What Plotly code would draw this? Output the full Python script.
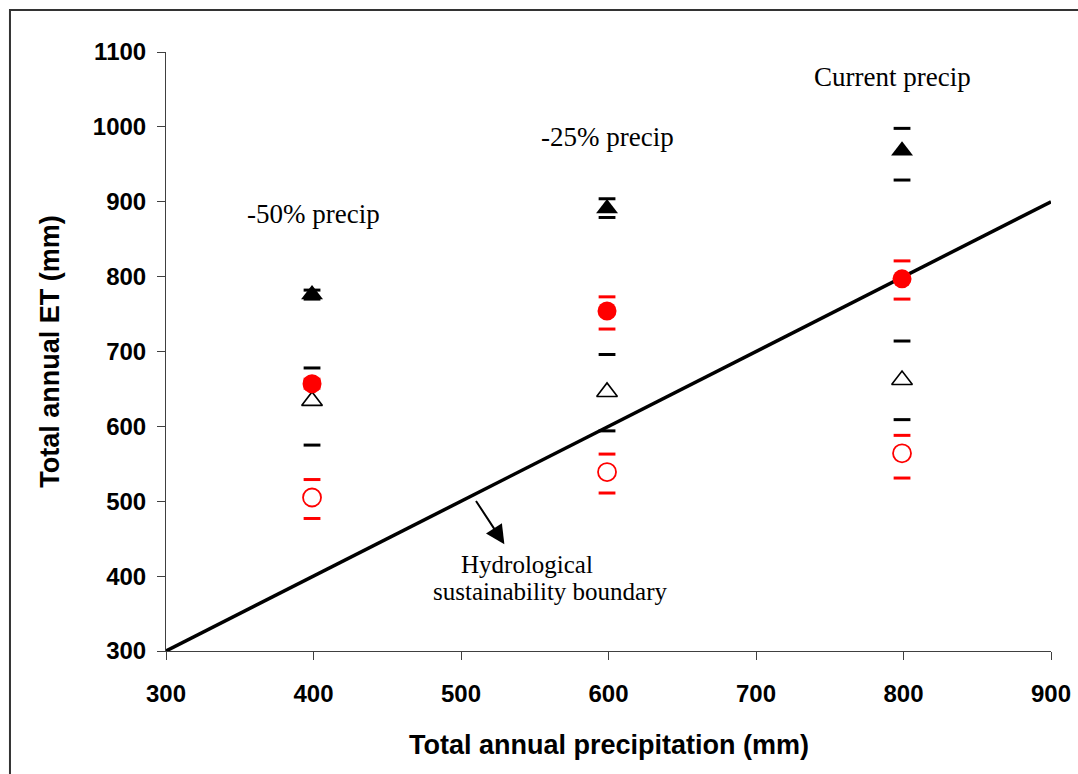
import plotly.graph_objects as go

# ---- data ----
precip = [399, 599, 799]

filled_tri = [776, 891, 968]
filled_tri_plus = [6, 13, 30]
filled_tri_minus = [6, 12, 39]

open_tri = [634, 646, 662]
open_tri_plus = [44, 50, 52]
open_tri_minus = [59, 52, 53]

filled_circ = [657, 754, 797]
filled_circ_plus = [6, 19, 24]
filled_circ_minus = [6, 24, 27]

open_circ = [505, 539, 564]
open_circ_plus = [24, 24, 24]
open_circ_minus = [28, 28, 33]

boundary_x = [300, 900]
boundary_y = [300, 900]

x_ticks = [300, 400, 500, 600, 700, 800, 900]
y_ticks = [300, 400, 500, 600, 700, 800, 900, 1000, 1100]

labels = ["-50% precip", "-25% precip", "Current precip"]
label_x = [399.7, 599.3, 792.5]
label_y = [884, 987, 1067]

SERIF = "Times New Roman, Liberation Serif, serif"
SANS = "Arial, Liberation Sans, sans-serif"

fig = go.Figure()

fig.add_trace(go.Scatter(x=boundary_x, y=boundary_y, mode="lines",
                         line=dict(color="black", width=3.5),
                         showlegend=False, hoverinfo="skip", cliponaxis=False))


def caps(x, m, p, n, color):
    ys = [a + b for a, b in zip(m, p)] + [a - b for a, b in zip(m, n)]
    xs = list(x) + list(x)
    fig.add_trace(go.Scatter(x=xs, y=ys, mode="markers",
                             marker=dict(symbol="line-ew", size=12,
                                         line=dict(color=color, width=3)),
                             showlegend=False, hoverinfo="skip"))


caps(precip, open_tri, open_tri_plus, open_tri_minus, "black")
caps(precip, open_circ, open_circ_plus, open_circ_minus, "red")
caps(precip, filled_circ, filled_circ_plus, filled_circ_minus, "red")
caps(precip, filled_tri, filled_tri_plus, filled_tri_minus, "black")

fig.add_trace(go.Scatter(x=precip, y=open_tri, mode="markers",
                         marker=dict(symbol="triangle-up-open", size=18, color="black",
                                     line=dict(width=1.6, color="black")),
                         showlegend=False))
fig.add_trace(go.Scatter(x=precip, y=open_circ, mode="markers",
                         marker=dict(symbol="circle-open", size=18, color="red",
                                     line=dict(width=1.8, color="red")),
                         showlegend=False))
fig.add_trace(go.Scatter(x=precip, y=filled_circ, mode="markers",
                         marker=dict(symbol="circle", size=19, color="red",
                                     line=dict(width=0)),
                         showlegend=False))
fig.add_trace(go.Scatter(x=precip, y=filled_tri, mode="markers",
                         marker=dict(symbol="triangle-up", size=19, color="black",
                                     line=dict(width=0)),
                         showlegend=False))

annotations = []
for t, ax_, ay_ in zip(labels, label_x, label_y):
    annotations.append(dict(x=ax_, y=ay_, xref="x", yref="y", text=t, showarrow=False,
                            xanchor="center", yanchor="middle",
                            font=dict(family=SERIF, size=27, color="black")))

annotations.append(dict(x=544.7, y=416, xref="x", yref="y", text="Hydrological",
                        showarrow=False, xanchor="center", yanchor="middle",
                        font=dict(family=SERIF, size=25, color="black")))
annotations.append(dict(x=560.3, y=380, xref="x", yref="y", text="sustainability boundary",
                        showarrow=False, xanchor="center", yanchor="middle",
                        font=dict(family=SERIF, size=25, color="black")))
# arrow
annotations.append(dict(x=529.4, y=442.6, xref="x", yref="y", ax=509.5, ay=502.4,
                        axref="x", ayref="y", text="", showarrow=True,
                        arrowhead=2, arrowsize=1.9, arrowwidth=2, arrowcolor="black"))
# axis titles
annotations.append(dict(x=0.5, y=-0.157, xref="paper", yref="paper",
                        text="Total annual precipitation (mm)", showarrow=False,
                        xanchor="center", yanchor="middle",
                        font=dict(family=SANS, size=27, color="black", weight="bold")))
annotations.append(dict(x=-0.132, y=0.5, xref="paper", yref="paper",
                        text="Total annual ET (mm)", showarrow=False, textangle=-90,
                        xanchor="center", yanchor="middle",
                        font=dict(family=SANS, size=27, color="black", weight="bold")))

axis_common = dict(showgrid=False, zeroline=False, showline=True, linecolor="#404040",
                   linewidth=1, ticks="outside", ticklen=8, tickwidth=1,
                   tickcolor="#404040", automargin=False,
                   tickfont=dict(family=SANS, size=24, color="black", weight="bold"))

fig.update_layout(
    width=1078, height=774,
    margin=dict(l=166, r=27, t=52, b=123),
    paper_bgcolor="white", plot_bgcolor="white",
    xaxis=dict(range=[300, 900], tickvals=x_ticks, ticklabelstandoff=13, **axis_common),
    yaxis=dict(range=[300, 1100], tickvals=y_ticks, ticklabelstandoff=6, **axis_common),
    annotations=annotations,
    shapes=[dict(type="rect", xref="paper", yref="paper",
                 x0=-0.1763, x1=1.2, y0=-0.4, y1=1.0702,
                 line=dict(color="#333333", width=2), fillcolor="rgba(0,0,0,0)")],
    showlegend=False,
)

fig.write_html("out.html")
